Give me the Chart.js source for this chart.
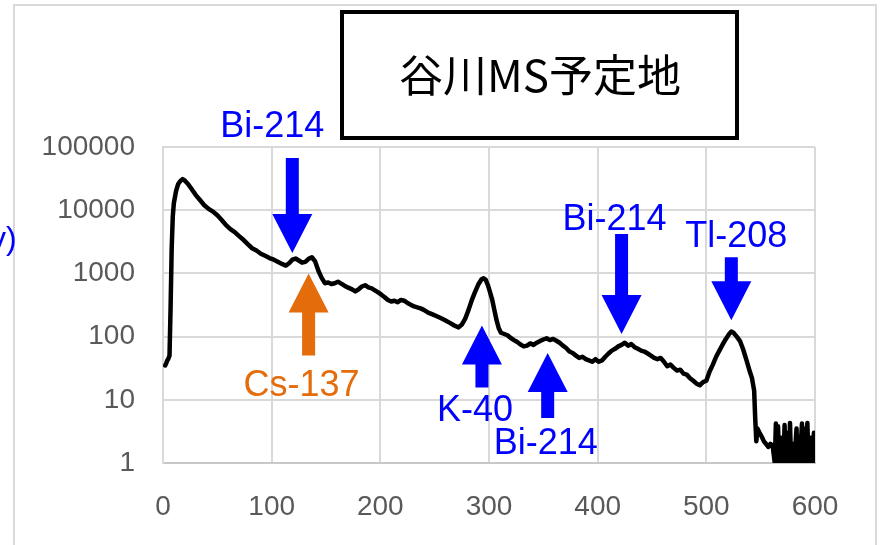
<!DOCTYPE html>
<html>
<head>
<meta charset="utf-8">
<script src="https://cdn.jsdelivr.net/npm/chart.js@4.4.0/dist/chart.umd.min.js"></script>
<style>
  body { margin: 0; background: #fff; }
  #wrap { width: 882px; height: 545px; }
</style>
</head>
<body>
<div id="wrap"><canvas id="spectrumChart" width="882" height="545"></canvas></div>
<script>
// spectrum (channel vs counts)
const channels = [
  2, 3, 4, 5, 6, 7, 8, 9, 10, 12, 14, 16, 18, 20, 23, 26, 30, 34, 38, 42,
  46, 50, 54, 58, 62, 66, 70, 74, 78, 82, 86, 90, 94, 98, 102, 106, 110, 113, 116, 119,
  122, 125, 128, 131, 134, 137, 140, 143, 146, 149, 152, 155, 158, 161, 164, 167, 170, 174, 177, 180,
  183, 186, 189, 192, 195, 198, 201, 204, 207, 210, 213, 216, 219, 222, 225, 228, 231, 234, 237, 240,
  244, 248, 252, 256, 260, 264, 268, 272, 275, 278, 281, 284, 287, 290, 293, 295, 297, 299, 301, 303,
  305, 307, 309, 311, 314, 317, 320, 323, 326, 329, 332, 335, 338, 341, 344, 347, 350, 353, 356, 359,
  362, 365, 368, 371, 374, 377, 380, 383, 386, 389, 392, 395, 398, 401, 404, 407, 410, 413, 416, 419,
  422, 425, 428, 431, 434, 437, 440, 443, 446, 449, 452, 455, 458, 461, 464, 467, 470, 473, 476, 479,
  482, 485, 488, 491, 494, 497, 500, 503, 506, 509, 512, 515, 518, 521, 523, 525, 528, 531, 534, 537,
  540, 542, 544, 545, 546, 547, 549, 551, 553, 555, 557, 559, 561, 563, 564, 565, 566, 567, 569, 571,
  572, 573, 575, 576, 577, 578, 580, 581, 583, 584, 586, 588, 589, 590, 591, 593, 594, 596, 597, 599,
  600
];
const counts = [
  35, 38, 42, 45, 50, 300, 2500, 8000, 13000, 20000, 26000, 29000, 31000, 29500, 26000, 22000, 17500, 14500, 12000, 10500,
  9500, 8300, 7000, 5800, 5000, 4500, 3900, 3400, 2900, 2500, 2300, 2050, 1900, 1750, 1650, 1520, 1400, 1330, 1450, 1650,
  1720, 1600, 1480, 1520, 1700, 1800, 1550, 1100, 850, 700, 720, 680, 700, 740, 690, 640, 600, 560, 520, 560,
  620, 650, 600, 580, 540, 500, 460, 420, 380, 360, 370, 350, 380, 370, 340, 320, 300, 290, 280, 265,
  240, 225, 210, 195, 180, 165, 150, 140, 155, 190, 260, 370, 500, 660, 800, 840, 790, 650, 500, 380,
  260, 180, 135, 115, 110, 105, 95, 88, 82, 75, 70, 72, 78, 74, 80, 85, 90, 94, 88, 92,
  86, 80, 72, 66, 58, 55, 50, 46, 48, 44, 42, 40, 44, 40, 42, 48, 54, 60, 64, 70,
  74, 80, 72, 76, 68, 64, 60, 58, 54, 50, 46, 44, 46, 40, 34, 36, 32, 29, 30, 26,
  25, 22, 20, 18, 17, 19, 20, 28, 36, 48, 60, 75, 92, 110, 120, 115, 100, 85, 62, 42,
  28, 22, 14, 5, 2.2, 3.5, 3, 2.6, 2.2, 2, 1.8, 2, 1.9, 1, 4.2, 1, 3.8, 1, 2.5, 1,
  4, 1, 3, 1, 4.3, 1, 2, 1, 3.5, 1, 1, 4.2, 1, 3.5, 1, 4.3, 1, 2.5, 1, 3,
  1
];
const xTicks = [0, 100, 200, 300, 400, 500, 600];
const yTicks = [1, 10, 100, 1000, 10000, 100000];

// peak labels
const peakNames = ['Bi-214', 'Cs-137', 'K-40', 'Bi-214', 'Bi-214', 'Tl-208'];
const peakChannels = [119, 134, 293.5, 354, 422, 523];
const peakCounts = [2100, 1000, 150, 55, 110, 182];

const BLUE = '#0000ff';
const ORANGE = '#e46c0a';
// arrow look for each peak label: dir 1 = pointing down, -1 = pointing up
const arrowStyle = [
  { dir: 1, len: 95, gap: 21, dx: -20, color: BLUE },
  { dir: -1, len: 82, gap: 15, dx: -7, color: ORANGE },
  { dir: -1, len: 62, gap: 8, dx: -7, color: BLUE },
  { dir: -1, len: 65, gap: 10, dx: -2, color: BLUE },
  { dir: 1, len: 100, gap: 4, dx: -7, color: BLUE },
  { dir: 1, len: 63, gap: 10, dx: 5, color: BLUE }
];

const points = channels.map((c, i) => ({ x: c, y: counts[i] }));

const peakArrows = {
  id: 'peakArrows',
  afterDatasetsDraw(chart) {
    const ctx = chart.ctx;
    const xs = chart.scales.x;
    const ys = chart.scales.y;
    ctx.save();
    ctx.font = '36px "Liberation Sans", Arial, sans-serif';
    ctx.textAlign = 'center';
    ctx.textBaseline = 'alphabetic';
    peakNames.forEach((name, i) => {
      const s = arrowStyle[i];
      const tx = xs.getPixelForValue(peakChannels[i]);
      const ty = ys.getPixelForValue(peakCounts[i]);
      const d = s.dir;
      const head = 39, hw = 20, sw = 6.5;
      const tail = ty - d * s.len;
      const base = ty - d * head;
      ctx.fillStyle = s.color;
      ctx.beginPath();
      ctx.moveTo(tx - sw, tail);
      ctx.lineTo(tx + sw, tail);
      ctx.lineTo(tx + sw, base);
      ctx.lineTo(tx + hw, base);
      ctx.lineTo(tx, ty);
      ctx.lineTo(tx - hw, base);
      ctx.lineTo(tx - sw, base);
      ctx.closePath();
      ctx.fill();
      const ly = d === 1 ? tail - s.gap : tail + s.gap + 26;
      ctx.fillText(name, tx + s.dx, ly);
    });
    ctx.restore();
  },
  afterDraw(chart) {
    const ctx = chart.ctx;
    ctx.save();
    // outer frame
    ctx.strokeStyle = '#d9d9d9';
    ctx.lineWidth = 2;
    ctx.beginPath();
    ctx.moveTo(14, 545);
    ctx.lineTo(14, 5);
    ctx.lineTo(876, 5);
    ctx.lineTo(876, 545);
    ctx.stroke();

    // title box
    ctx.fillStyle = '#fff';
    ctx.fillRect(342, 12, 395, 126);
    ctx.strokeStyle = '#000';
    ctx.lineWidth = 4;
    ctx.strokeRect(342, 12, 395, 126);
    ctx.fillStyle = '#000';
    ctx.font = '44px "Noto Sans CJK JP", sans-serif';
    ctx.textAlign = 'center';
    ctx.textBaseline = 'middle';
    ctx.fillText('谷川MS予定地', 540, 75);

    // axis title (cut off at the left edge)
    ctx.fillStyle = BLUE;
    ctx.font = '32px "Liberation Sans", Arial, sans-serif';
    ctx.textAlign = 'left';
    ctx.textBaseline = 'alphabetic';
    ctx.fillText('y)', -10, 249);
    ctx.restore();
  }
};

const ctxSpec = document.getElementById('spectrumChart').getContext('2d');
const spectrumChart = new Chart(ctxSpec, {
  type: 'line',
  data: {
    datasets: [{
      data: points,
      borderColor: '#000',
      borderWidth: 4.5,
      borderJoinStyle: 'round',
      borderCapStyle: 'round',
      pointRadius: 0,
      tension: 0,
      fill: false
    }]
  },
  options: {
    responsive: false,
    animation: false,
    events: [],
    layout: { padding: { left: 0, right: 67, top: 147, bottom: 0 } },
    plugins: {
      legend: { display: false },
      tooltip: { enabled: false }
    },
    scales: {
      x: {
        type: 'linear',
        min: 0,
        max: 600,
        afterBuildTicks: scale => { scale.ticks = xTicks.map(v => ({ value: v })); },
        afterFit: scale => { scale.height = 82; },
        grid: { color: '#d9d9d9', lineWidth: 2, drawTicks: false },
        border: { color: '#c8c8c8', width: 2 },
        ticks: {
          padding: 27,
          color: '#595959',
          font: { family: '"Liberation Sans", Arial, sans-serif', size: 28 },
          maxRotation: 0
        }
      },
      y: {
        type: 'logarithmic',
        min: 1,
        max: 100000,
        afterBuildTicks: scale => { scale.ticks = yTicks.map(v => ({ value: v })); },
        afterFit: scale => { scale.width = 163; },
        grid: { color: '#d9d9d9', lineWidth: 2, drawTicks: false },
        border: { color: '#d9d9d9', width: 2 },
        ticks: {
          padding: 28,
          color: '#595959',
          font: { family: '"Liberation Sans", Arial, sans-serif', size: 28 },
          callback: v => String(v)
        }
      }
    }
  },
  plugins: [peakArrows]
});
</script>
</body>
</html>
